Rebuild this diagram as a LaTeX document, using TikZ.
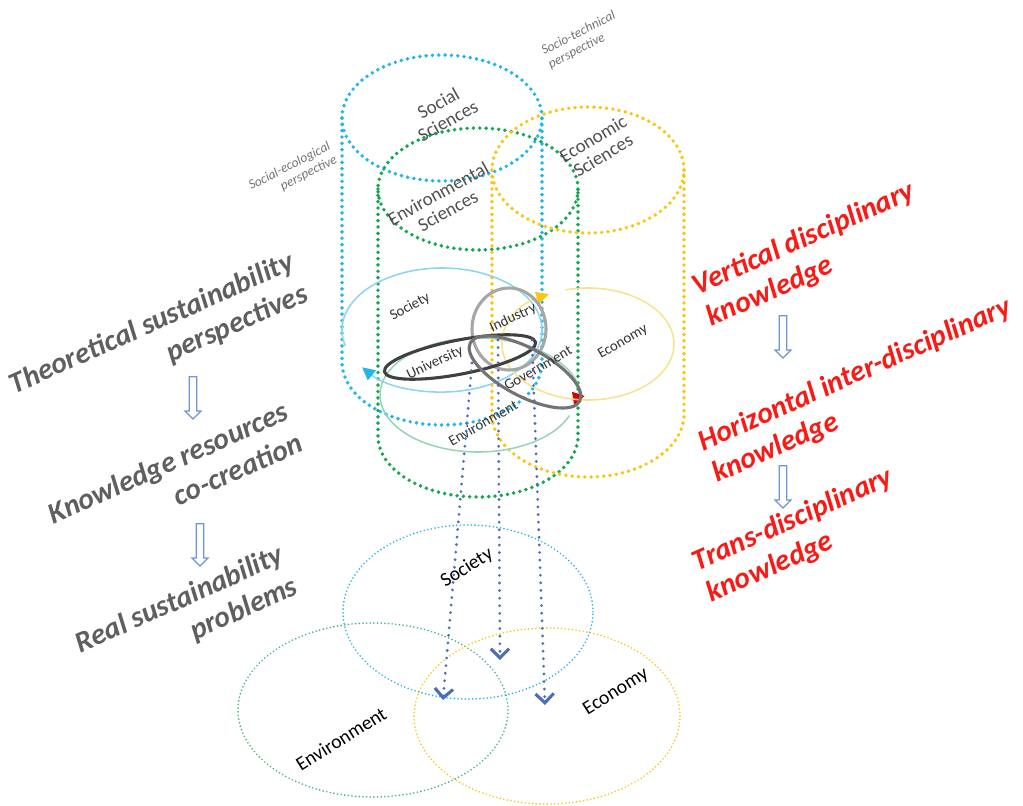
\documentclass[tikz,border=0pt]{standalone}
\usepackage{fontspec}
\setmainfont{Carlito}
\usepackage{tikz}
\usetikzlibrary{arrows.meta, shapes.arrows}

\definecolor{socblue}{RGB}{35,182,232}
\definecolor{envgreen}{RGB}{20,168,85}
\definecolor{ecoyellow}{RGB}{250,198,20}
\definecolor{lightsoc}{RGB}{140,212,240}
\definecolor{lightenv}{RGB}{150,214,180}
\definecolor{lighteco}{RGB}{248,226,140}
\definecolor{flowblue}{RGB}{75,110,180}
\definecolor{hollowblue}{RGB}{110,150,210}
\definecolor{leftgray}{RGB}{95,95,95}
\definecolor{knowred}{RGB}{250,25,20}
\definecolor{labelgray}{RGB}{80,80,80}

\begin{document}
\begin{tikzpicture}[x=0.025cm, y=0.025cm, >=Stealth,
    fatdots/.style={line width=2.8pt, line cap=round, dash pattern=on 0pt off 4.5pt},
    finedots/.style={line width=1.3pt, line cap=round, dash pattern=on 0pt off 2.6pt},
    flowdots/.style={draw=flowblue, line width=2.2pt, line cap=round, dash pattern=on 0pt off 5.4pt,
        -{Straight Barb[length=6.5pt, width=13pt, line width=2.2pt]}},
    midline/.style={line width=1.1pt},
    helix/.style={line width=2.2pt},
    downarrow/.style={single arrow, draw=hollowblue, fill=white, line width=0.9pt, rotate=-90,
        minimum height=30pt, inner sep=2.2pt, single arrow head extend=3pt},
    lefttxt/.style={font=\fontsize{21}{24.5}\selectfont\bfseries\itshape, text=leftgray, align=right, rotate=24},
    righttxt/.style={font=\fontsize{21}{24.5}\selectfont\bfseries\itshape, text=knowred, align=left, rotate=24},
    cyllabel/.style={font=\fontsize{13.5}{14}\selectfont, text=labelgray, align=center},
    perspective/.style={font=\fontsize{9.5}{10.5}\selectfont\itshape, text=black!55, rotate=27},
    midlabel/.style={font=\fontsize{10.5}{11}\selectfont, text=black!80},
    baselabel/.style={font=\fontsize{14}{15}\selectfont, text=black, rotate=32}]

    \useasboundingbox (0,0) rectangle (1023,805);

    % discipline cylinders
    \draw[fatdots, socblue] (442,687) ellipse [x radius=100, y radius=63];
    \draw[fatdots, socblue] (342,687) -- (342,443) arc[start angle=180, end angle=360, x radius=100, y radius=63] -- (542,687);
    \draw[fatdots, envgreen] (478,616) ellipse [x radius=100, y radius=61];
    \draw[fatdots, envgreen] (378,616) -- (378,369) arc[start angle=180, end angle=360, x radius=100, y radius=61] -- (578,616);
    \draw[fatdots, ecoyellow] (588,635) ellipse [x radius=96, y radius=63];
    \draw[fatdots, ecoyellow] (492,635) -- (492,391) arc[start angle=180, end angle=360, x radius=96, y radius=63] -- (684,635);

    \node[cyllabel, rotate=29] (socsci) at (443,693) {Social\\Sciences};
    \node[cyllabel, rotate=29] (envsci) at (443,603) {Environmental\\Sciences};
    \node[cyllabel, rotate=31] (ecosci) at (598,658) {Economic\\Sciences};
    \node[perspective, align=left] (sociotech) at (582,765) {Socio-technical\\perspective};
    \node[perspective, align=right] (socioeco) at (293,632) {Social-ecological\\perspective};

    % middle layer
    \draw[midline, lightsoc, -{Triangle[length=9pt, width=9pt, color=socblue]}]
        (442,475) ++(195:100 and 62) arc[start angle=195, end angle=-143, x radius=100, y radius=62];
    \draw[midline, lightenv, -{Triangle[length=9pt, width=9pt, color=red!85!black]}]
        (478,410) ++(339:98 and 57) arc[start angle=339, end angle=-11, x radius=98, y radius=57];
    \draw[midline, lighteco, -{Triangle[length=9pt, width=9pt, color=ecoyellow]}]
        (588,461) ++(105:86 and 56) arc[start angle=105, end angle=-243, x radius=86, y radius=56];

    \draw[helix, black!35] (509,476) ellipse [x radius=37, y radius=41];
    \draw[helix, black!75, shift={(460,448)}, rotate=11] (0,0) ellipse [x radius=77, y radius=17];
    \draw[helix, black!55, shift={(525,433)}, rotate=-28] (0,0) ellipse [x radius=62, y radius=24];

    \node[midlabel, rotate=29] (society) at (410,498) {Society};
    \node[midlabel, rotate=25] (industry) at (513,487) {Industry};
    \node[midlabel, rotate=25] (university) at (435,442) {University};
    \node[midlabel, rotate=30] (government) at (538,437) {Government};
    \node[midlabel, rotate=30] (economy) at (623,463) {Economy};
    \node[midlabel, rotate=30] (environment) at (483,382) {Environment};

    % real problems
    \draw[finedots, socblue] (468,193) ellipse [x radius=125, y radius=87];
    \draw[finedots, envgreen!80] (373,95) ellipse [x radius=135, y radius=87];
    \draw[finedots, ecoyellow] (547,89) ellipse [x radius=133, y radius=88];

    \node[baselabel] (realsoc) at (467,237) {Society};
    \node[baselabel] (realenv) at (341,66) {Environment};
    \node[baselabel] (realeco) at (616,113) {Economy};

    \coordinate (flowA) at (472,442);
    \coordinate (flowB) at (498,465);
    \coordinate (flowC) at (532,465);
    \coordinate (dropA) at (443,105);
    \coordinate (dropB) at (500,145);
    \coordinate (dropC) at (545,100);
    \draw[flowdots] (flowA) -- (dropA);
    \draw[flowdots] (flowB) -- (dropB);
    \draw[flowdots] (flowC) -- (dropC);

    % side texts
    \node[lefttxt] (theory) at (159,465) {Theoretical sustainability\\perspectives};
    \node[lefttxt] (cocreate) at (175,327) {Knowledge resources\\co-creation};
    \node[lefttxt] (realprob) at (187,189) {Real sustainability\\problems};
    \node[downarrow] (arrL1) at (193,409) {};
    \node[downarrow] (arrL2) at (200,262) {};

    \node[righttxt] (vertk) at (811,550) {Vertical disciplinary\\knowledge};
    \node[righttxt] (horik) at (862,414) {Horizontal inter-disciplinary\\knowledge};
    \node[righttxt] (transk) at (800,269) {Trans-disciplinary\\knowledge};
    \node[downarrow] (arrR1) at (783,470) {};
    \node[downarrow] (arrR2) at (783,320) {};
\end{tikzpicture}
\end{document}
